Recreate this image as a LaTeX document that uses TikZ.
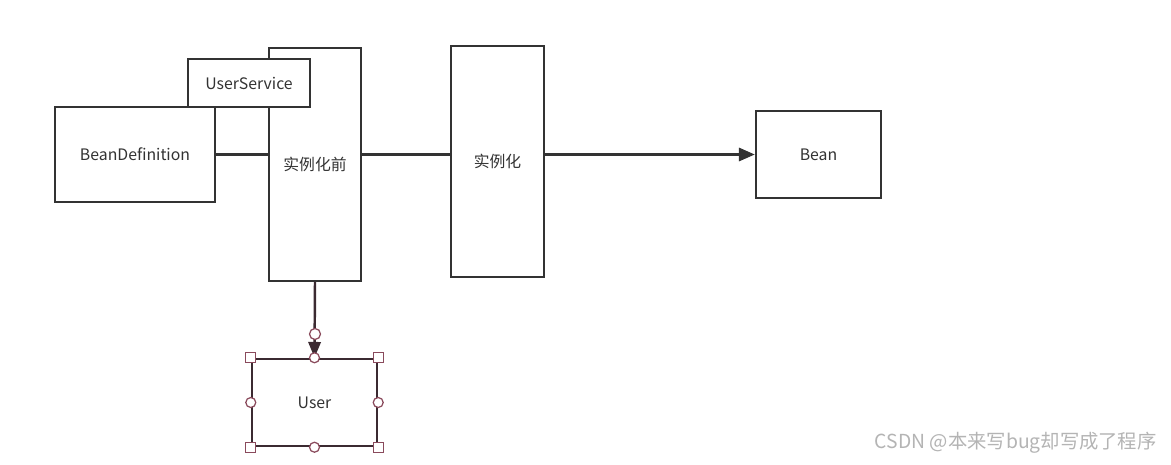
\documentclass[tikz,border=0pt]{standalone}
\usepackage{fontspec}
\setmainfont{Noto Sans CJK SC}
\usetikzlibrary{arrows.meta,calc}
\definecolor{FlowLine}{HTML}{333333}
\definecolor{FlowText}{HTML}{333333}
\definecolor{SelLine}{HTML}{3B2A31}
\definecolor{SelHandle}{HTML}{8A4A5C}
\definecolor{MarkGray}{HTML}{B4B4B4}

\tikzset{
  flowbox/.style={draw=FlowLine,fill=white,line width=1.4pt,rectangle,inner sep=0pt,
    text=FlowText,font=\fontsize{9}{11}\selectfont},
  flowline/.style={draw=FlowLine,line width=1.4pt},
  handlesq/.style={draw=SelHandle,fill=white,line width=.7pt},
}

\begin{document}
\begin{tikzpicture}[x=0.02cm,y=-0.02cm]
\path[use as bounding box] (0,0) rectangle (1171,464);
\fill[white] (0,0) rectangle (1171,464);
% boxes
\node[flowbox,minimum width=1.84cm,minimum height=4.66cm] (pre) at (315,164.5) {实例化前};
\node[flowbox,minimum width=3.2cm,minimum height=1.9cm] (bd) at (135,154.5) {BeanDefinition};
\node[flowbox,minimum width=2.44cm,minimum height=0.96cm] (us) at (249,83) {UserService};
\node[flowbox,minimum width=1.86cm,minimum height=4.62cm] (inst) at (497.5,161.5) {实例化};
\node[flowbox,minimum width=2.5cm,minimum height=1.74cm] (bean) at (818.5,154.5) {Bean};
\node[flowbox,draw=SelLine,minimum width=2.5cm,minimum height=1.74cm] (user) at (314.5,402.5) {User};
% connectors
\draw[flowline] (bd.east) -- (bd.east -| pre.west);
\draw[flowline] (pre.east |- bd.east) -- (inst.west |- bd.east);
\draw[flowline,-{Triangle[length=9pt,width=7.5pt]}] (inst.east |- bean.west) -- (bean.west);
\draw[flowline,draw=SelLine,-{Triangle[length=9pt,width=7pt,fill=SelLine]}] (pre.south) -- (user.north);
% selection handles
\coordinate (ep) at (315,334);
\filldraw[handlesq] (ep) circle (0.11cm);
\foreach \c in {north west,north east,south west,south east}
  \filldraw[handlesq] ($(user.\c)+(-5,-5)$) rectangle ($(user.\c)+(5,5)$);
\foreach \c in {north,south,east,west}
  \filldraw[handlesq] (user.\c) circle (0.1cm);
% watermark
\node[anchor=east,text=MarkGray,font=\fontsize{11}{13}\selectfont,inner sep=0pt] (mark) at (1157,443) {CSDN @本来写bug却写成了程序};
\end{tikzpicture}
\end{document}
